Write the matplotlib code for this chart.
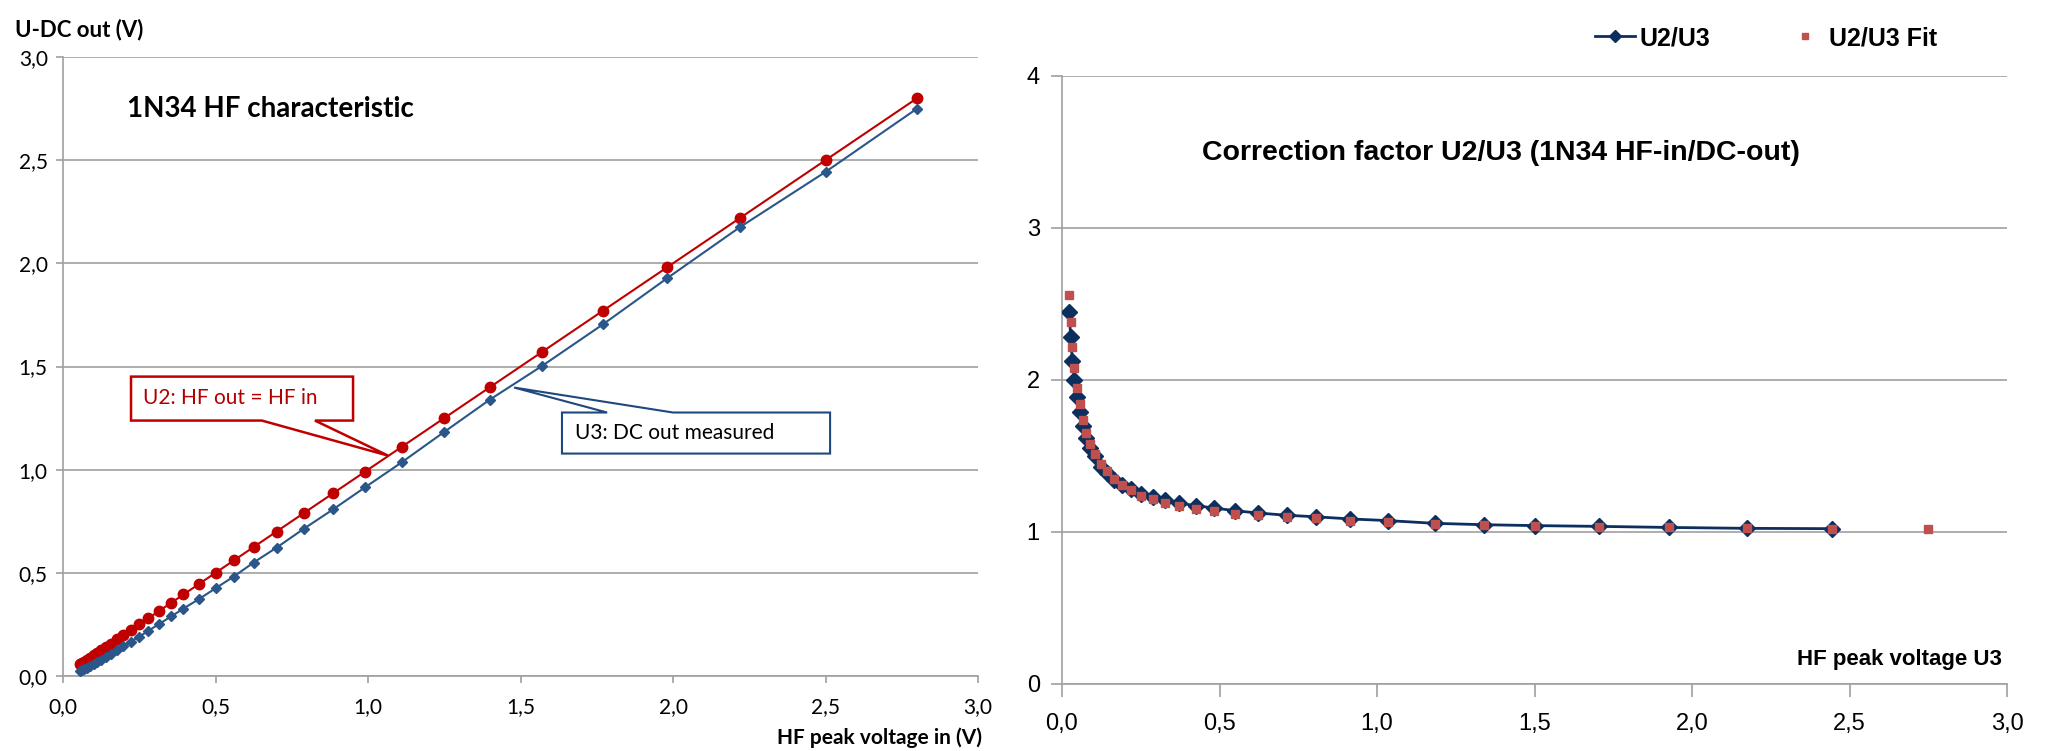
import matplotlib.pyplot as plt
from matplotlib.patches import Polygon
from matplotlib.lines import Line2D

# HF peak voltage in (U2) and measured DC out (U3), volts
u2 = [0.056, 0.063, 0.070, 0.079, 0.089, 0.100, 0.112, 0.125, 0.140, 0.157,
      0.177, 0.198, 0.222, 0.250, 0.280, 0.315, 0.355, 0.395, 0.445, 0.500,
      0.560, 0.625, 0.700, 0.790, 0.885, 0.990, 1.110, 1.250, 1.400, 1.570,
      1.770, 1.980, 2.220, 2.500, 2.800]
u3 = [0.0229, 0.0276, 0.0329, 0.0395, 0.047, 0.056, 0.066, 0.077, 0.090, 0.105,
      0.124, 0.143, 0.166, 0.191, 0.219, 0.252, 0.289, 0.327, 0.372, 0.425,
      0.482, 0.550, 0.622, 0.714, 0.807, 0.914, 1.035, 1.183, 1.340, 1.502,
      1.704, 1.927, 2.176, 2.443, 2.750]

# correction factor U2/U3 (measured, last point missing) and fit
ratio = [2.45, 2.28, 2.125, 2.0, 1.886, 1.79, 1.70, 1.62, 1.55, 1.50,
         1.43, 1.385, 1.34, 1.31, 1.28, 1.25, 1.23, 1.21, 1.19, 1.173,
         1.158, 1.14, 1.125, 1.11, 1.10, 1.086, 1.075, 1.057, 1.048, 1.042,
         1.037, 1.03, 1.024, 1.022]
ratio_fit = [2.56, 2.38, 2.22, 2.08, 1.95, 1.84, 1.74, 1.65, 1.58, 1.51,
             1.45, 1.40, 1.35, 1.31, 1.275, 1.24, 1.215, 1.19, 1.17, 1.15,
             1.14, 1.12, 1.11, 1.10, 1.09, 1.075, 1.065, 1.055, 1.048, 1.042,
             1.036, 1.03, 1.025, 1.022, 1.02]

x_ticks = [0.0, 0.5, 1.0, 1.5, 2.0, 2.5, 3.0]
x_labels = ['0,0', '0,5', '1,0', '1,5', '2,0', '2,5', '3,0']
y_ticks_left = [0.0, 0.5, 1.0, 1.5, 2.0, 2.5, 3.0]
y_labels_left = ['0,0', '0,5', '1,0', '1,5', '2,0', '2,5', '3,0']
y_ticks_right = [0, 1, 2, 3, 4]

RED = '#C00000'
BLUE = '#2A5689'
NAVY = '#0B2F5E'
FIT = '#C0504D'
GRID = '#A0A0A0'

fig = plt.figure(figsize=(20.48, 7.51), dpi=100)

# ---------------- left chart ----------------
lf = 'Lato'
ax = fig.add_axes([63/2048, 75/751, 915/2048, 619/751])
ax.plot(u2, u2, color=RED, lw=1.5, marker='o', ms=7.5, zorder=3)
ax.plot(u2, u3, color=BLUE, lw=1.5, marker='D', ms=5, zorder=3)
ax.set_xlim(0, 3)
ax.set_ylim(0, 3)
ax.set_xticks(x_ticks)
ax.set_xticklabels(x_labels, family=lf, fontsize=15)
ax.set_yticks(y_ticks_left)
ax.set_yticklabels(y_labels_left, family=lf, fontsize=15)
ax.grid(axis='y', color=GRID, lw=1.2)
ax.set_axisbelow(True)
for s in ['top', 'right']:
    ax.spines[s].set_visible(False)
for s in ['left', 'bottom']:
    ax.spines[s].set_color(GRID)
    ax.spines[s].set_linewidth(1.2)
ax.tick_params(colors=GRID, length=5, width=1.2, labelcolor='black')
ax.tick_params(axis='x', pad=10)
ax.tick_params(axis='y', pad=6)

fig.text(15/2048, 1 - 30/751, 'U-DC out (V)', family=lf, fontsize=16,
         fontweight='bold', va='center', ha='left')
fig.text(982/2048, 1 - 738/751, 'HF peak voltage in (V)', family=lf,
         fontsize=15, fontweight='bold', va='center', ha='right')
ax.text(0.21, 2.75, '1N34 HF characteristic', family=lf, fontsize=20,
        fontweight='bold', va='center', ha='left')

# callout boxes
red_call = [(0.223, 1.451), (0.951, 1.451), (0.951, 1.238), (0.826, 1.238),
            (1.066, 1.068), (0.652, 1.238), (0.223, 1.238)]
ax.add_patch(Polygon(red_call, closed=True, facecolor='white',
                     edgecolor=RED, lw=1.8, zorder=4))
ax.text(0.262, 1.345, 'U2: HF out = HF in', family=lf, fontsize=15,
        color='#B00000', va='center', ha='left', zorder=5)
blue_call = [(1.636, 1.078), (1.636, 1.277), (1.784, 1.277), (1.479, 1.398),
             (2.0, 1.277), (2.515, 1.277), (2.515, 1.078)]
ax.add_patch(Polygon(blue_call, closed=True, facecolor='white',
                     edgecolor='#1F497D', lw=1.5, zorder=4))
ax.text(1.679, 1.178, 'U3: DC out measured', family=lf, fontsize=15,
        color='black', va='center', ha='left', zorder=5)

# ---------------- right chart ----------------
rf = 'Liberation Sans'
ax2 = fig.add_axes([1062/2048, 67/751, 945/2048, 608/751])
ax2.plot(u3[:-1], ratio, color=NAVY, lw=2, marker='D', ms=8, zorder=3,
         label='U2/U3')
ax2.plot(u3, ratio_fit, ls='none', color=FIT, marker='s', ms=5.5, zorder=4,
         label='U2/U3 Fit')
ax2.set_xlim(0, 3)
ax2.set_ylim(0, 4)
ax2.set_xticks(x_ticks)
ax2.set_xticklabels(x_labels, family=rf, fontsize=17)
ax2.set_yticks(y_ticks_right)
ax2.set_yticklabels([str(v) for v in y_ticks_right], family=rf, fontsize=17)
ax2.grid(axis='y', color=GRID, lw=1.2)
ax2.set_axisbelow(True)
for s in ['top', 'right']:
    ax2.spines[s].set_visible(False)
for s in ['left', 'bottom']:
    ax2.spines[s].set_color(GRID)
    ax2.spines[s].set_linewidth(1.2)
ax2.tick_params(colors=GRID, width=1.2, labelcolor='black')
ax2.tick_params(axis='x', length=9, pad=12)
ax2.tick_params(axis='y', length=8, pad=8)

ax2.text(0.148, 0.873, 'Correction factor U2/U3 (1N34 HF-in/DC-out)',
         transform=ax2.transAxes, family=rf, fontsize=20.5, fontweight='bold',
         va='center', ha='left')
ax2.text(0.995, 0.04, 'HF peak voltage U3', transform=ax2.transAxes,
         family=rf, fontsize=16, fontweight='bold', va='center', ha='right')

handles = [Line2D([], [], color=NAVY, lw=2, marker='D', ms=6),
           Line2D([], [], ls='none', color=FIT, marker='s', ms=5)]
ax2.legend(handles, ['U2/U3', 'U2/U3 Fit'], loc='center',
           bbox_to_anchor=(0.745, 1.0625), ncol=2, frameon=False,
           prop={'family': rf, 'size': 18, 'weight': 'bold'},
           handlelength=1.6, handletextpad=0.15, columnspacing=3.0)

fig.savefig('out.png', dpi=100, facecolor='white')
